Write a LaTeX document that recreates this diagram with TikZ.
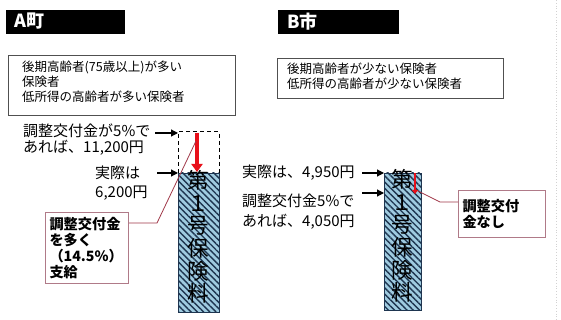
\documentclass[tikz,border=0pt]{standalone}
\usepackage{fontspec}
\setmainfont{Noto Sans CJK JP}
\usetikzlibrary{patterns.meta,arrows.meta}
\definecolor{barblue}{HTML}{9FCBE0}
\definecolor{stripe}{HTML}{1E3550}
\definecolor{pinkborder}{HTML}{B07A88}
\definecolor{leader}{HTML}{A03848}
\definecolor{redarrow}{HTML}{E8101A}
\definecolor{boxgray}{HTML}{505050}
\begin{document}
\begin{tikzpicture}[x=1pt,y=-1pt,
  header/.style={fill=black,draw=black,anchor=north west,inner sep=0pt},
  headtext/.style={anchor=west,text=white,inner sep=0pt,font=\bfseries\fontsize{18}{18}\selectfont},
  descbox/.style={draw=boxgray,line width=0.9pt,anchor=north west,inner sep=0pt},
  desctext/.style={anchor=north west,align=left,inner sep=0pt,font=\fontsize{12.5}{15}\selectfont},
  lbl/.style={anchor=west,align=left,inner sep=0pt,font=\fontsize{15}{16}\selectfont},
  ptr/.style={-{Triangle[length=7pt,width=7pt]},line width=1.2pt,black},
  pinkbox/.style={draw=pinkborder,line width=1pt,anchor=north west,align=left,inner xsep=4pt,inner ysep=0pt,font=\bfseries\fontsize{14.2}{16}\selectfont},
  leaderline/.style={draw=leader,line width=0.8pt},
  bartext/.style={align=center,inner sep=0pt,font=\fontsize{21.5}{22.6}\selectfont}]
\useasboundingbox (0,0) rectangle (561,320);
\fill[white] (0,0) rectangle (561,320);
\draw[gray!35,dotted,line width=0.8pt] (556,0) -- (556,320);

% headers
\node[header,minimum width=118pt,minimum height=23pt] (hA) at (6,10) {};
\node[headtext] (tA) at (14,21.5) {A町};
\node[header,minimum width=120pt,minimum height=23pt] (hB) at (278,10) {};
\node[headtext] (tB) at (287,21.5) {B市};

% description boxes
\node[descbox,minimum width=227pt,minimum height=60pt] (dA) at (8,55) {};
\node[desctext] (dAt) at (22,61) {後期高齢者(75歳以上)が多い\\保険者\\低所得の高齢者が多い保険者};
\node[descbox,minimum width=226pt,minimum height=40pt] (dB) at (277,58) {};
\node[desctext] (dBt) at (287,63) {後期高齢者が少ない保険者\\低所得の高齢者が少ない保険者};

% bar A
\fill[barblue] (178,173) rectangle (219,312);
\fill[pattern={Lines[angle=-45,distance=4.4pt,line width=1.4pt]},pattern color=stripe] (178,173) rectangle (219,312);
\draw[stripe,line width=0.7pt] (178,173) rectangle (219,312);
\draw[black,line width=1pt,dash pattern=on 4pt off 3pt] (178,173) -- (178,132) -- (219,132) -- (219,173);
\coordinate (barAtop) at (178,133);
\coordinate (barAmid) at (178,173);
\node[bartext] (btA) at (198.5,237) {第\\１\\号\\保\\険\\料};
\coordinate (rAs) at (197,133);
\coordinate (rAe) at (197,172);
\draw[redarrow,line width=4pt,-{Triangle[length=8pt,width=11pt]}] (rAs) -- (rAe);

% bar B
\fill[barblue] (384,173) rectangle (421,310);
\fill[pattern={Lines[angle=-45,distance=4.4pt,line width=1.4pt]},pattern color=stripe] (384,173) rectangle (421,310);
\draw[stripe,line width=0.7pt] (384,173) rectangle (421,310);
\node[bartext] (btB) at (402.5,236) {第\\１\\号\\保\\険\\料};
\coordinate (barBtop) at (384,173);
\coordinate (barBmid) at (384,193);
\coordinate (rBs) at (415,173);
\coordinate (rBe) at (415,194);
\draw[redarrow,line width=2.5pt,-{Triangle[length=4pt,width=6pt]}] (rBs) -- (rBe);

% labels A
\node[lbl] (lA1) at (23,140) {調整交付金が5\%で\\あれば、11,200円};
\coordinate (aA1) at (155,133);
\draw[ptr] (aA1) -- (barAtop);
\node[lbl,font=\fontsize{15}{19}\selectfont] (lA2) at (95,183.5) {実際は\\6,200円};
\coordinate (aA2) at (157,173);
\draw[ptr] (aA2) -- (barAmid);

% labels B
\node[lbl] (lB1) at (242,173) {実際は、4,950円};
\coordinate (aB1) at (362,173);
\draw[ptr] (aB1) -- (barBtop);
\node[lbl,font=\fontsize{15}{20}\selectfont] (lB2) at (242,211.5) {調整交付金5\%で\\あれば、4,050円};
\coordinate (aB2) at (362,193);
\draw[ptr] (aB2) -- (barBmid);

% pink boxes
\node[pinkbox,minimum width=83pt,minimum height=71pt,text width=75pt] (pA) at (45,212) {調整交付金\\を多く\\（14.5\%）\\支給};
\coordinate (kA1) at (157,223);
\coordinate (kA2) at (196,141);
\draw[leaderline] (pA.east |- kA1) -- (kA1) -- (kA2);

\node[pinkbox,minimum width=87pt,minimum height=47pt,text width=79pt] (pB) at (458,190) {調整交付\\金なし};
\coordinate (kB1) at (440,202);
\coordinate (kB2) at (418,191);
\draw[leaderline] (pB.west |- kB1) -- (kB1) -- (kB2);
\end{tikzpicture}
\end{document}
